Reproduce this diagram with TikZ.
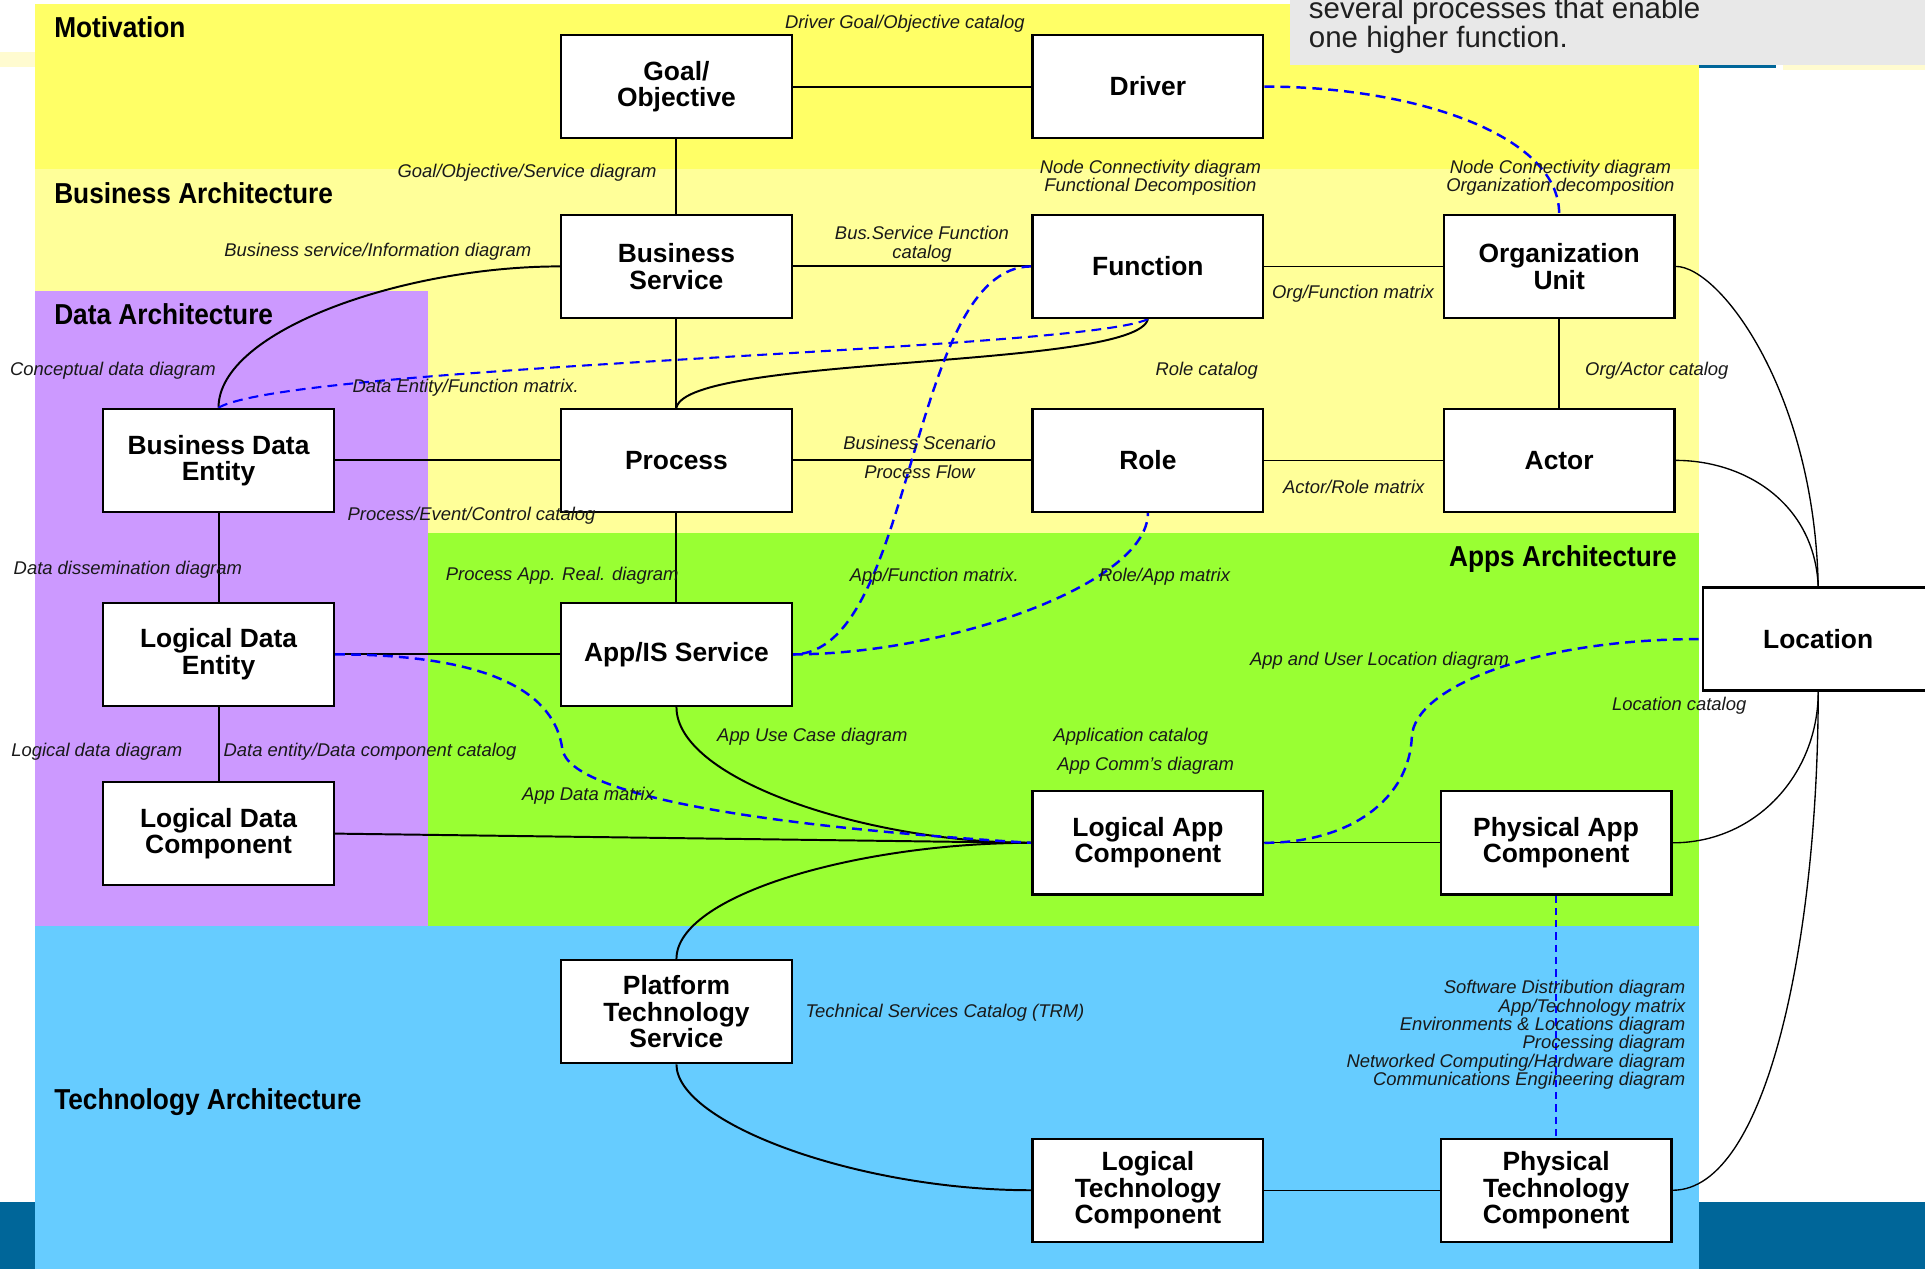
\documentclass[tikz,border=0pt]{standalone}
\usepackage{fontspec}
\setmainfont{Liberation Sans}
\newfontfamily\narrowsans[FakeStretch=0.91]{Liberation Sans}

\definecolor{motiv}{HTML}{FFFF66}
\definecolor{busarch}{HTML}{FFFF99}
\definecolor{dataarch}{HTML}{CC99FF}
\definecolor{apparch}{HTML}{99FF33}
\definecolor{techarch}{HTML}{66CCFF}
\definecolor{slideblue}{HTML}{006699}
\definecolor{notegray}{HTML}{E8E8E8}
\definecolor{paleyellow}{HTML}{FFFBD0}
\definecolor{linkblue}{HTML}{0000FF}

\pgfdeclarelayer{bands}
\pgfdeclarelayer{wires}
\pgfsetlayers{bands,wires,main}

\tikzset{
  entity/.style={draw=black, line width=1.9pt, fill=white,
    minimum width=188pt, minimum height=84pt, inner sep=0pt, align=center,
    font=\fontsize{21.5}{21.5}\selectfont\bfseries},
  lbl/.style={inner sep=0pt, text=black!90,
    font=\fontsize{15}{15}\selectfont\itshape},
  sect/.style={inner sep=0pt, anchor=base west,
    font=\narrowsans\fontsize{23.5}{24}\selectfont\bfseries},
  link/.style={line width=1.6pt},
  thinlink/.style={line width=1.1pt},
  xref/.style={draw=linkblue, line width=2pt, dash pattern=on 8pt off 5pt},
  xrefthin/.style={draw=linkblue, line width=1.5pt, dash pattern=on 6pt off 4pt}
}

\begin{document}
\begin{tikzpicture}[x=1pt, y=-1pt]
\useasboundingbox (0,0) rectangle (1568,1034);
\clip (0,0) rectangle (1568,1034);

% ---------- architecture bands ----------
\begin{pgfonlayer}{bands}
  \fill[white] (0,0) rectangle (1568,1034);
  \fill[paleyellow] (0,42) rectangle (28.4,54.5);
  \fill[motiv] (28.4,3.3) rectangle (1383.6,138);
  \fill[busarch] (28.4,138) rectangle (1383.6,434);
  \fill[apparch] (349,434) rectangle (1383.6,754);
  \fill[dataarch] (28.4,237) rectangle (349,754);
  \fill[techarch] (28.4,754) rectangle (1383.6,1034);
  \fill[slideblue] (0,979) rectangle (28.4,1034);
  \fill[slideblue] (1383.6,979) rectangle (1568,1034);
  \fill[notegray] (1051,0) rectangle (1568,53);
  \fill[slideblue] (1384,53) rectangle (1447,55.5);
  \fill[paleyellow] (1452,53) rectangle (1568,57);
\end{pgfonlayer}

% ---------- entities ----------
\node[entity] (goal) at (551,70.5) {Goal/\\Objective};
\node[entity] (drv)  at (935,70.5) {Driver};
\node[entity] (bs)   at (551,217) {Business\\Service};
\node[entity] (fn)   at (935,217) {Function};
\node[entity] (org)  at (1270,217) {Organization\\Unit};
\node[entity] (bde)  at (178,375) {Business Data\\Entity};
\node[entity] (proc) at (551,375) {Process};
\node[entity] (role) at (935,375) {Role};
\node[entity] (act)  at (1270,375) {Actor};
\node[entity] (lde)  at (178,533) {Logical Data\\Entity};
\node[entity] (app)  at (551,533) {App/IS Service};
\node[entity] (loc)  at (1481,520.5) {Location};
\node[entity] (ldc)  at (178,679) {Logical Data\\Component};
\node[entity] (lac)  at (935,686.5) {Logical App\\Component};
\node[entity] (pac)  at (1267.5,686.5) {Physical App\\Component};
\node[entity] (pts)  at (551,824) {Platform\\Technology\\Service};
\node[entity] (ltc)  at (935,969.5) {Logical\\Technology\\Component};
\node[entity] (ptc)  at (1267.5,969.5) {Physical\\Technology\\Component};

% ---------- relations ----------
\begin{pgfonlayer}{wires}
  \draw[link] (goal) -- (drv);
  \draw[link] (goal) -- (bs);
  \draw[link] (bs) -- (fn);
  \draw[thinlink] (fn) -- (org);
  \draw[link] (bs) -- (proc);
  \draw[thinlink] (org) -- (act);
  \draw[link] (bde) -- (proc);
  \draw[link] (proc) -- (role);
  \draw[thinlink] (role) -- (act);
  \draw[link] (bde) -- (lde);
  \draw[link] (proc) -- (app);
  \draw[link] (lde) -- (app);
  \draw[link] (lde) -- (ldc);
  \draw[link] (ldc.east) -- (lac.west);
  \draw[thinlink] (lac) -- (pac);
  \draw[thinlink] (ltc) -- (ptc);

  \draw[link] (bs.west) .. controls +(-127,0) and +(0,-63) .. (bde.north);
  \draw[link] (fn.south) .. controls +(-10,41) and +(9,-43) .. (proc.north);
  \draw[link] (app.south) .. controls +(0,60) and +(-131,0) .. (lac.west);
  \draw[link] (pts.north) .. controls +(0,-52) and +(-141,0) .. (lac.west);
  \draw[link] (pts.south) .. controls +(0,48) and +(-141,0) .. (ltc.west);

  \draw[thinlink] (org.east) .. controls +(36,0) and +(-3,-158) .. (loc.north);
  \draw[thinlink] (act.east) .. controls +(56,0) and +(-3,-68) .. (loc.north);
  \draw[thinlink] (loc.south) .. controls +(0,67) and +(68,0) .. (pac.east);
  \draw[thinlink] (loc.south) .. controls +(0,197) and +(78,0) .. (ptc.east);

  \draw[xref] (drv.east) .. controls +(120,0) and +(0,-65) .. (org.north);
  \draw[xref, line width=1.7pt] (fn.south) .. controls +(-55,26) and +(62,-35) .. (bde.north);
  \draw[xref] (fn.west) .. controls +(-101,0) and +(100,0) .. (app.east);
  \draw[xref] (app.east) .. controls +(125,0) and +(0,58) .. (role.south);
  \draw[xref] (lde.east) .. controls +(128,0) and +(-6,-45) .. (458,610)
                         .. controls +(6,40) and +(-200,-12) .. (lac.west);
  \draw[xref] (lac.east) .. controls +(71,0) and +(-2,50) .. (1150,600)
                         .. controls +(2,-40) and +(-137,0) .. (loc.west);
  \draw[xrefthin] (pac) -- (ptc);
\end{pgfonlayer}

% ---------- section titles ----------
\node[sect] (tmot)  at (44,30.4) {Motivation};
\node[sect] (tbus)  at (44,165.4) {Business Architecture};
\node[sect] (tdata) at (44,264.4) {Data Architecture};
\node[sect, anchor=base east] (tapp) at (1366,461.4) {Apps Architecture};
\node[sect] (ttech) at (44,903.4) {Technology Architecture};

% ---------- note ----------
\node[anchor=south west, inner sep=0pt, align=left, text=black!88,
      font=\fontsize{24}{22.3}\selectfont] (note) at (1066,43.6)
      {several processes that enable\\one higher function.};

% ---------- artefact labels ----------
\node[lbl] (l1) at (737,19) {Driver Goal/Objective catalog};
\node[lbl, anchor=east] (l2) at (535,141) {Goal/Objective/Service diagram};
\node[lbl, align=center] (l3) at (937,145) {Node Connectivity diagram\\Functional Decomposition};
\node[lbl, align=center] (l4) at (1271,145) {Node Connectivity diagram\\Organization decomposition};
\node[lbl, anchor=east] (l5) at (433,205) {Business service/Information diagram};
\node[lbl, align=center] (l6) at (751,199) {Bus.Service Function\\catalog};
\node[lbl, anchor=west] (l7) at (1036,239) {Org/Function matrix};
\node[lbl, anchor=west] (l8) at (8,302) {Conceptual data diagram};
\node[lbl, anchor=west] (l9) at (287,316) {Data Entity/Function matrix.};
\node[lbl, anchor=west] (l10) at (941,302) {Role catalog};
\node[lbl, anchor=west] (l11) at (1291,302) {Org/Actor catalog};
\node[lbl] (l12) at (749,361) {Business Scenario};
\node[lbl] (l13) at (749,384) {Process Flow};
\node[lbl, anchor=west] (l14) at (1045,397) {Actor/Role matrix};
\node[lbl, anchor=west] (l15) at (283,420) {Process/Event/Control catalog};
\node[lbl, anchor=west] (l16) at (11,464) {Data dissemination diagram};
\node[lbl, anchor=west] (l17) at (363,469) {Process App. Real. diagram};
\node[lbl, anchor=west] (l18) at (692,470) {App/Function matrix.};
\node[lbl, anchor=west] (l19) at (895,470) {Role/App matrix};
\node[lbl, anchor=west] (l20) at (1018,538) {App and User Location diagram};
\node[lbl, anchor=west] (l21) at (1313,575) {Location catalog};
\node[lbl, anchor=west] (l22) at (9,612) {Logical data diagram};
\node[lbl, anchor=west] (l23) at (182,612) {Data entity/Data component catalog};
\node[lbl, anchor=west] (l24) at (584,600) {App Use Case diagram};
\node[lbl, anchor=west] (l25) at (858,600) {Application catalog};
\node[lbl, anchor=west] (l26) at (861,624) {App Comm’s diagram};
\node[lbl, anchor=west] (l27) at (425,648) {App Data matrix};
\node[lbl, anchor=west] (l28) at (656,825) {Technical Services Catalog (TRM)};
\node[lbl, anchor=east, align=right] (l29) at (1373,843)
  {Software Distribution diagram\\App/Technology matrix\\Environments \& Locations diagram\\Processing diagram\\Networked Computing/Hardware diagram\\Communications Engineering diagram};
\end{tikzpicture}
\end{document}
